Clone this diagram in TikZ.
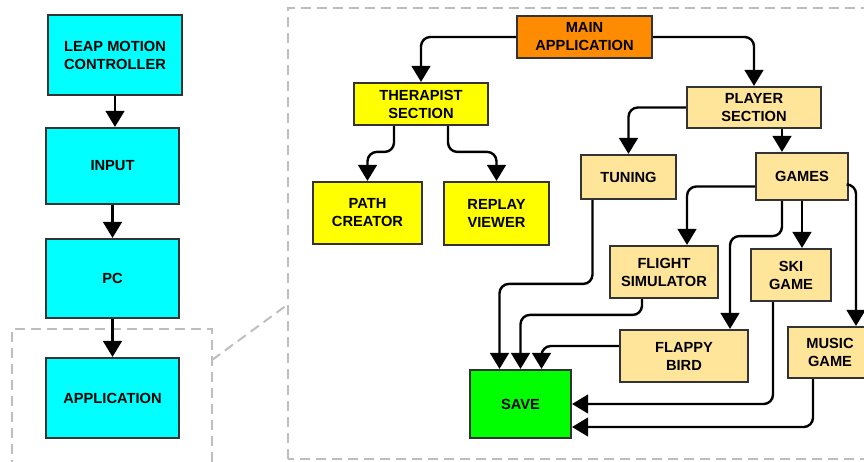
\documentclass[tikz,border=0pt]{standalone}
\usepackage{fontspec}
\setmainfont{Liberation Sans}
\definecolor{hwcyan}{RGB}{0,255,255}
\definecolor{apporange}{RGB}{255,140,0}
\definecolor{therapyellow}{RGB}{255,255,0}
\definecolor{playertan}{RGB}{255,229,153}
\definecolor{savegreen}{RGB}{0,255,0}
\definecolor{boxedge}{RGB}{51,51,51}
\definecolor{zoomgray}{RGB}{190,190,190}
\usetikzlibrary{arrows.meta,positioning,calc}

\begin{document}
\begin{tikzpicture}[x=0.75pt,y=-0.75pt,
    blk/.style={draw=boxedge,line width=1.6pt,align=center,inner sep=0pt,
        font=\fontsize{11}{13.5}\selectfont\bfseries},
    boxsize/.style 2 args={minimum width=#1*0.75pt,minimum height=#2*0.75pt},
    link/.style={line width=1.8pt,rounded corners=7pt,
        -{Triangle[width=14pt,length=12pt]}},
    zoomline/.style={draw=zoomgray,line width=1.5pt,dash pattern=on 7.5pt off 4.5pt}]
    \useasboundingbox (0,0) rectangle (864,461);

    % zoom frames
    \draw[zoomline] (12,470) |- (212,329) -- (212,470);
    \draw[zoomline] (288,459) rectangle (880,8);
    \draw[zoomline] (212,360) -- (287,305);

    % hardware chain
    \node[blk,fill=hwcyan,boxsize={134}{80}] (leap) at (115,55) {LEAP MOTION\\CONTROLLER};
    \node[blk,fill=hwcyan,boxsize={133}{76}] (input) at (112.5,166) {INPUT};
    \node[blk,fill=hwcyan,boxsize={133}{79}] (pc) at (112.5,278.5) {PC};
    \node[blk,fill=hwcyan,boxsize={133}{80}] (app) at (112.5,398) {APPLICATION};

    \draw[link] (leap.south) -- (leap.south |- input.north);
    \draw[link] (input.south) -- (pc.north);
    \draw[link] (pc.south) -- (app.north);

    % application
    \node[blk,fill=apporange,boxsize={135}{42}] (main) at (584.5,37) {MAIN\\APPLICATION};
    \node[blk,fill=therapyellow,boxsize={134}{42}] (therapist) at (421,104) {THERAPIST\\SECTION};
    \node[blk,fill=therapyellow,boxsize={109}{62}] (pathc) at (367.5,213) {PATH\\CREATOR};
    \node[blk,fill=therapyellow,boxsize={105}{63}] (replay) at (496.5,213.5) {REPLAY\\VIEWER};
    \node[blk,fill=playertan,boxsize={134}{41}] (player) at (754,107.5) {PLAYER\\SECTION};
    \node[blk,fill=playertan,boxsize={95}{44}] (tuning) at (628.5,177) {TUNING};
    \node[blk,fill=playertan,boxsize={92}{47}] (games) at (802,176.5) {GAMES};
    \node[blk,fill=playertan,boxsize={108}{52}] (flight) at (664,272) {FLIGHT\\SIMULATOR};
    \node[blk,fill=playertan,boxsize={80}{52}] (ski) at (791,275) {SKI\\GAME};
    \node[blk,fill=playertan,boxsize={128}{52}] (flappy) at (684,356) {FLAPPY\\BIRD};
    \node[blk,fill=playertan,boxsize={84}{51}] (music) at (830,352.5) {MUSIC\\GAME};
    \node[blk,fill=savegreen,boxsize={101}{68}] (save) at (520.5,404) {SAVE};

    \draw[link] (main.west) -| (therapist.north);
    \draw[link] (main.east) -| (player.north);
    \draw[link] ($(therapist.south)+(-27,0)$) |- ($(pathc.north)+(0,-29)$) -- (pathc.north);
    \draw[link] ($(therapist.south)+(27,0)$) |- ($(replay.north)+(0,-29)$) -- (replay.north);
    \draw[link] (player.west) -| (tuning.north);
    \draw[link] ($(player.south)+(28,0)$) coordinate (ps) -- (ps |- games.north);

    % games
    \draw[link] ($(games.west)+(0,10)$) -| ($(flight.north)+(23,0)$);
    \draw[link] ($(games.south)+(-20,0)$) -- ++(0,35) -| ($(flappy.north)+(46,0)$);
    \draw[link] (games.south) -- (games.south |- ski.north);
    \draw[link] ($(games.east)+(0,8)$) -| ($(music.north)+(26,0)$);

    % everything ends in save
    \draw[link] ($(tuning.south)+(-36,0)$) |- ($(save.north)+(-21,-85)$) -- ($(save.north)+(-21,0)$);
    \draw[link] ($(flight.south)+(-22,0)$) |- ($(save.north)+(0,-54)$) -- (save.north);
    \draw[link] ($(flappy.west)+(0,-10)$) -| ($(save.north)+(21,0)$);
    \draw[link] ($(ski.south)+(-18,0)$) |- (save.east);
    \draw[link] ($(music.south)+(-17,0)$) |- ($(save.east)+(0,23)$);
\end{tikzpicture}
\end{document}
